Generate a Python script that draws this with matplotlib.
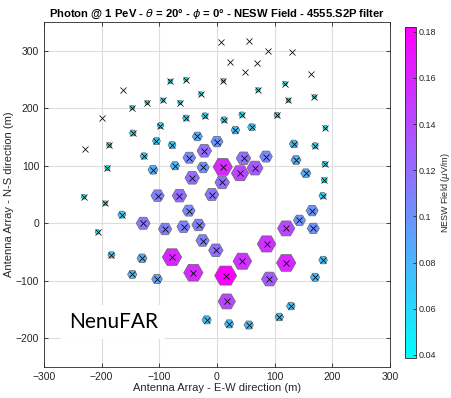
import numpy as np
import matplotlib
matplotlib.use("Agg")
import matplotlib.pyplot as plt

plt.rcParams['font.family'] = ['Liberation Sans', 'DejaVu Sans']

# antenna positions (m) and NESW field (uV/m); nan = no signal drawn
ant_x = [-229, -200, -163, 7, 55, 89, 130, 22, 70, 49, 163,
         -147, -121, -94, -81, -54, -64, -28, 11, 71, 118, 124, 169, 188, -231, -194, -207,
         -187, -190, -146, -98, -54, -21, 12, 43, 104, 170, 187, 186, 183,
         -105, -78, -127, -111, -73, -165, -183, -147, -130, -104,
         32, 60, 133, 137, 154, 165, 143, 167, 184, 170, 128, 108, 55, 21, -18,
         -34, -24, 0, -48, -22, -43, 85, 46, 9, -9, -103, -65, -128, -49,
         -90, -58, -32, -25, -2, 91, 120,
         10, 40, 66, 86, 120, 44, 15, 17, -78, -41]
ant_y = [129, 183, 231, 315, 317, 299, 297, 281, 278, 263, 260,
         201, 210, 214, 247, 250, 210, 225, 248, 232, 243, 214, 220, 166, 46, 35, -15,
         136, 96, 157, 170, 183, 187, 180, 189, 188, 135, 103, 75, 48,
         143, 136, 117, 93, 100, 15, -55, -89, -61, -97,
         162, 167, 138, 110, 87, 22, 5, -9, -64, -94, -144, -163, -177, -175, -168,
         151, 97, 142, 114, 126, 79, 116, 113, 71, 50, 48, 48, 0, 22,
         -10, -6, -3, -30, -47, -97, -9,
         98, 87, 96, -36, -69, -66, -91, -136, -59, -86]
field = [np.nan] * 11 + \
        [0.040, 0.040, 0.040, 0.040, 0.040, 0.040, 0.040, 0.040, 0.040, 0.040, 0.040, 0.040, 0.042,
         0.042, 0.042, 0.042,
         0.045, 0.045, 0.055, 0.055, 0.055, 0.055, 0.055, 0.050, 0.050, 0.055, 0.050, 0.050, 0.060,
         0.066, 0.066, 0.060, 0.083, 0.077, 0.066, 0.060, 0.077, 0.083, 0.088,
         0.072, 0.066, 0.072, 0.083, 0.083, 0.100, 0.100, 0.100, 0.072, 0.077, 0.072, 0.072,
         0.077, 0.077, 0.077,
         0.083, 0.100, 0.100, 0.105, 0.120, 0.120, 0.105, 0.120, 0.120, 0.115, 0.110, 0.120,
         0.115, 0.105,
         0.110, 0.110, 0.110, 0.110, 0.120, 0.132, 0.143,
         0.160, 0.143, 0.132, 0.154, 0.160, 0.154, 0.182, 0.143, 0.160, 0.160]

x = np.array(ant_x, dtype=float)
y = np.array(ant_y, dtype=float)
f = np.array(field, dtype=float)

fig = plt.figure(figsize=(4.52, 3.98), dpi=100)
ax = fig.add_axes([0.0973, 0.0779, 0.7655, 0.8668])
cax = fig.add_axes([0.896, 0.1005, 0.0243, 0.8317])

ok = ~np.isnan(f)
order = np.argsort(f[ok])
sc = ax.scatter(x[ok][order], y[ok][order], s=(87 * f[ok][order]) ** 2, c=f[ok][order],
                cmap='cool', vmin=0.0387, vmax=0.182, marker='H',
                edgecolors='#666666', linewidths=0.5, zorder=3)
ax.plot(x, y, 'x', color='black', ms=5, mew=0.55, zorder=4)

ax.set_xlim(-300, 300)
ax.set_ylim(-250, 350)
ax.set_xticks(np.arange(-300, 301, 100))
ax.set_yticks(np.arange(-200, 301, 100))
ax.grid(True, color='#dddddd', linewidth=0.8, zorder=0)
ax.set_axisbelow(True)
ax.tick_params(direction='in', top=True, right=True, length=3, width=0.6,
               labelsize=7.5, colors='#262626')
for sp in ax.spines.values():
    sp.set_color('#262626')
    sp.set_linewidth(0.6)

ax.set_title(r'Photon @ 1 PeV - $\theta$ = 20° - $\phi$ = 0° - NESW Field - 4555.S2P filter',
             fontsize=8.1, fontweight='bold', pad=4)
ax.set_xlabel('Antenna Array - E-W direction (m)', fontsize=8, color='#262626', labelpad=1)
ax.set_ylabel('Antenna Array - N-S direction (m)', fontsize=8, color='#262626', labelpad=1)

ax.text(-180, -172, 'NenuFAR', fontsize=15, family='Lato', ha='center', va='center',
        zorder=6, bbox=dict(facecolor='white', edgecolor='none', boxstyle='square,pad=0.35'))

cb = fig.colorbar(sc, cax=cax)
cb.set_ticks(np.arange(0.04, 0.181, 0.02))
cb.set_ticklabels(['0.04', '0.06', '0.08', '0.1', '0.12', '0.14', '0.16', '0.18'])
cb.ax.tick_params(direction='in', length=2, width=0.6, labelsize=6.5, colors='#262626', pad=2)
cb.outline.set_linewidth(0.6)
cb.outline.set_edgecolor('#262626')
cb.set_label(r'NESW Field ($\mu$V/m)', fontsize=6.5, color='#262626', labelpad=2)

fig.savefig('out.png', dpi=100)
